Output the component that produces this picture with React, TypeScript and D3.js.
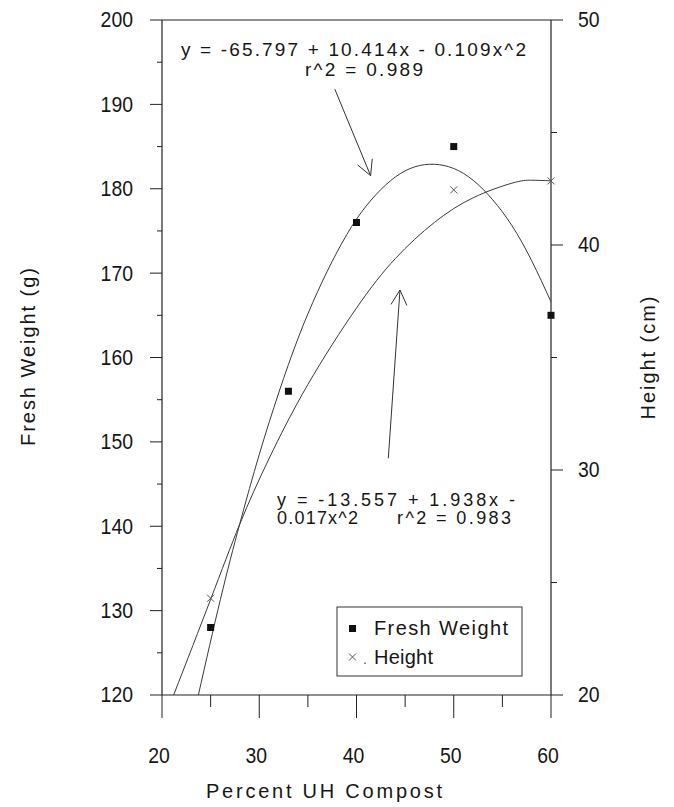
import React from "react";
import * as d3 from "d3";

// observed means
const compost = [25, 33, 40, 50, 60];
const freshWeight = [128, 156, 176, 185, 165];
const heightCompost = [25, 50, 60];
const heightCm = [24.3, 42.45, 42.85];

// fitted curves
const fwFitX = [23.74, 26, 28, 30, 32, 34, 36, 38, 40, 42, 44, 46, 48, 50, 52, 54, 56, 58, 60];
const fwFitY = [120, 131.3, 140.3, 148.5, 155.8, 162.3, 167.8, 172.5, 176.4, 179.3, 181.4, 182.6, 182.9, 182.4, 181.0, 178.7, 175.6, 171.5, 166.6];
const htFitX = [21.2, 25, 28, 31, 35, 40, 44, 48, 52, 56, 58, 60];
const htFitY = [20, 24.25, 27.6, 30.5, 33.8, 37.2, 39.4, 41.0, 42.1, 42.75, 42.88, 42.85];

const xTicks = [20, 30, 40, 50, 60];
const xMinor = [25, 35, 45, 55];
const leftTicks = [120, 130, 140, 150, 160, 170, 180, 190, 200];
const leftMinor = [125, 135, 145, 155, 165, 175, 185, 195];
const rightTicks = [20, 30, 40, 50];
const rightMinor = [25, 35, 45];

const W = 674;
const H = 807;
const FONT = "'Liberation Sans', Arial, Helvetica, sans-serif";
const INK = "#161616";
const DIGIT_W = 10.8;

const x = d3.scaleLinear().domain([20, 60]).range([162, 551]);
const yL = d3.scaleLinear().domain([120, 200]).range([695, 20]);
const yR = d3.scaleLinear().domain([20, 50]).range([695, 20]);

const line = d3.line<[number, number]>().curve(d3.curveNatural);

function Arrow({ tail, tip }: { tail: [number, number]; tip: [number, number] }) {
  const a = Math.atan2(tail[1] - tip[1], tail[0] - tip[0]);
  const len = 17;
  const spread = (28 * Math.PI) / 180;
  const h1 = [tip[0] + len * Math.cos(a - spread), tip[1] + len * Math.sin(a - spread)];
  const h2 = [tip[0] + len * Math.cos(a + spread), tip[1] + len * Math.sin(a + spread)];
  return (
    <g stroke="#333" strokeWidth={1} fill="none">
      <line x1={tail[0]} y1={tail[1]} x2={tip[0]} y2={tip[1]} />
      <line x1={tip[0]} y1={tip[1]} x2={h1[0]} y2={h1[1]} />
      <line x1={tip[0]} y1={tip[1]} x2={h2[0]} y2={h2[1]} />
    </g>
  );
}

function Cross({ cx, cy, s = 3.5 }: { cx: number; cy: number; s?: number }) {
  return (
    <g stroke="#555" strokeWidth={1}>
      <line x1={cx - s} y1={cy - s} x2={cx + s} y2={cy + s} />
      <line x1={cx - s} y1={cy + s} x2={cx + s} y2={cy - s} />
    </g>
  );
}

export default function App() {
  const fwPath = line(fwFitX.map((v, i) => [x(v), yL(fwFitY[i])] as [number, number]));
  const htPath = line(htFitX.map((v, i) => [x(v), yR(htFitY[i])] as [number, number]));

  return (
    <svg
      width={W}
      height={H}
      style={{ position: "absolute", left: 0, top: 0, background: "#fff" }}
      fontFamily={FONT}
    >
      {/* axes frame */}
      <g stroke="#222" strokeWidth={1.2}>
        <line x1={x(20)} y1={yL(200)} x2={x(60)} y2={yL(200)} />
        <line x1={x(20)} y1={yL(120)} x2={x(60)} y2={yL(120)} />
        <line x1={x(20)} y1={yL(200)} x2={x(20)} y2={yL(120)} />
        <line x1={x(60)} y1={yL(200)} x2={x(60)} y2={yL(120)} />
      </g>
      <g stroke="#222" strokeWidth={1}>
        {xTicks.map((t) => (
          <line key={"xt" + t} x1={x(t)} x2={x(t)} y1={yL(120)} y2={yL(120) + 23} />
        ))}
        {xMinor.map((t) => (
          <line key={"xm" + t} x1={x(t)} x2={x(t)} y1={yL(120)} y2={yL(120) + 12} />
        ))}
        {leftTicks.map((t) => (
          <line key={"lt" + t} x1={x(20) - 12} x2={x(20)} y1={yL(t)} y2={yL(t)} />
        ))}
        {leftMinor.map((t) => (
          <line key={"lm" + t} x1={x(20) - 5} x2={x(20)} y1={yL(t)} y2={yL(t)} />
        ))}
        {rightTicks.map((t) => (
          <line key={"rt" + t} x1={x(60)} x2={x(60) + 12} y1={yR(t)} y2={yR(t)} />
        ))}
        {rightMinor.map((t) => (
          <line key={"rm" + t} x1={x(60)} x2={x(60) + 6} y1={yR(t)} y2={yR(t)} />
        ))}
      </g>

      {/* tick labels */}
      <g fill={INK} fontSize={22}>
        {leftTicks.map((t) => (
          <text
            key={"ll" + t}
            x={133}
            y={yL(t)}
            dy="0.34em"
            textAnchor="end"
            textLength={String(t).length * DIGIT_W}
            lengthAdjust="spacingAndGlyphs"
          >
            {t}
          </text>
        ))}
        {rightTicks.map((t) => (
          <text
            key={"rl" + t}
            x={578}
            y={yR(t)}
            dy="0.34em"
            textLength={String(t).length * DIGIT_W}
            lengthAdjust="spacingAndGlyphs"
          >
            {t}
          </text>
        ))}
        {xTicks.map((t) => (
          <text
            key={"xl" + t}
            x={x(t) - 3}
            y={763}
            textAnchor="middle"
            textLength={String(t).length * DIGIT_W}
            lengthAdjust="spacingAndGlyphs"
          >
            {t}
          </text>
        ))}
      </g>

      {/* axis titles */}
      <g fill={INK} fontSize={20}>
        <text x={324} y={798} textAnchor="middle" textLength={236} lengthAdjust="spacing">
          Percent UH Compost
        </text>
        <text
          transform="translate(35,357) rotate(-90)"
          textAnchor="middle"
          textLength={178}
          lengthAdjust="spacing"
        >
          Fresh Weight (g)
        </text>
        <text
          transform="translate(655,358) rotate(-90)"
          textAnchor="middle"
          textLength={123}
          lengthAdjust="spacing"
        >
          Height (cm)
        </text>
      </g>

      {/* fitted curves */}
      <path d={fwPath ?? ""} fill="none" stroke="#3a3a3a" strokeWidth={1} />
      <path d={htPath ?? ""} fill="none" stroke="#3a3a3a" strokeWidth={1} />

      {/* observed points */}
      {heightCompost.map((c, i) => (
        <Cross key={"h" + c} cx={x(c)} cy={yR(heightCm[i])} />
      ))}
      {compost.map((c, i) => (
        <rect
          key={"f" + c}
          x={x(c) - 3.5}
          y={yL(freshWeight[i]) - 3.5}
          width={7}
          height={7}
          fill="#111"
        />
      ))}

      {/* equations */}
      <g fill={INK}>
        <text x={181} y={56} fontSize={19} textLength={345} lengthAdjust="spacing">
          y = -65.797 + 10.414x - 0.109x^2
        </text>
        <text x={305} y={76} fontSize={19} textLength={118} lengthAdjust="spacing">
          r^2 = 0.989
        </text>
        <text x={277} y={505.5} fontSize={18} textLength={238} lengthAdjust="spacing">
          y = -13.557 + 1.938x -
        </text>
        <text x={277} y={524} fontSize={18} textLength={81} lengthAdjust="spacing">
          0.017x^2
        </text>
        <text x={397} y={524} fontSize={18} textLength={114} lengthAdjust="spacing">
          r^2 = 0.983
        </text>
      </g>

      <Arrow tail={[x(37.77), yL(191.8)]} tip={[x(41.45), yL(181.55)]} />
      <Arrow tail={[x(43.27), yL(148.05)]} tip={[x(44.47), yL(168.0)]} />

      {/* legend */}
      <g>
        <rect x={337} y={607} width={185} height={69} fill="#fff" stroke="#333" strokeWidth={1} />
        <rect x={349} y={625} width={7} height={7} fill="#111" />
        <text x={374} y={635} fontSize={20} fill={INK} textLength={134} lengthAdjust="spacing">
          Fresh Weight
        </text>
        <Cross cx={352.5} cy={657} />
        <text x={363} y={664} fontSize={14} fill="#555">
          .
        </text>
        <text x={374} y={664} fontSize={20} fill={INK} textLength={59} lengthAdjust="spacing">
          Height
        </text>
      </g>
    </svg>
  );
}
